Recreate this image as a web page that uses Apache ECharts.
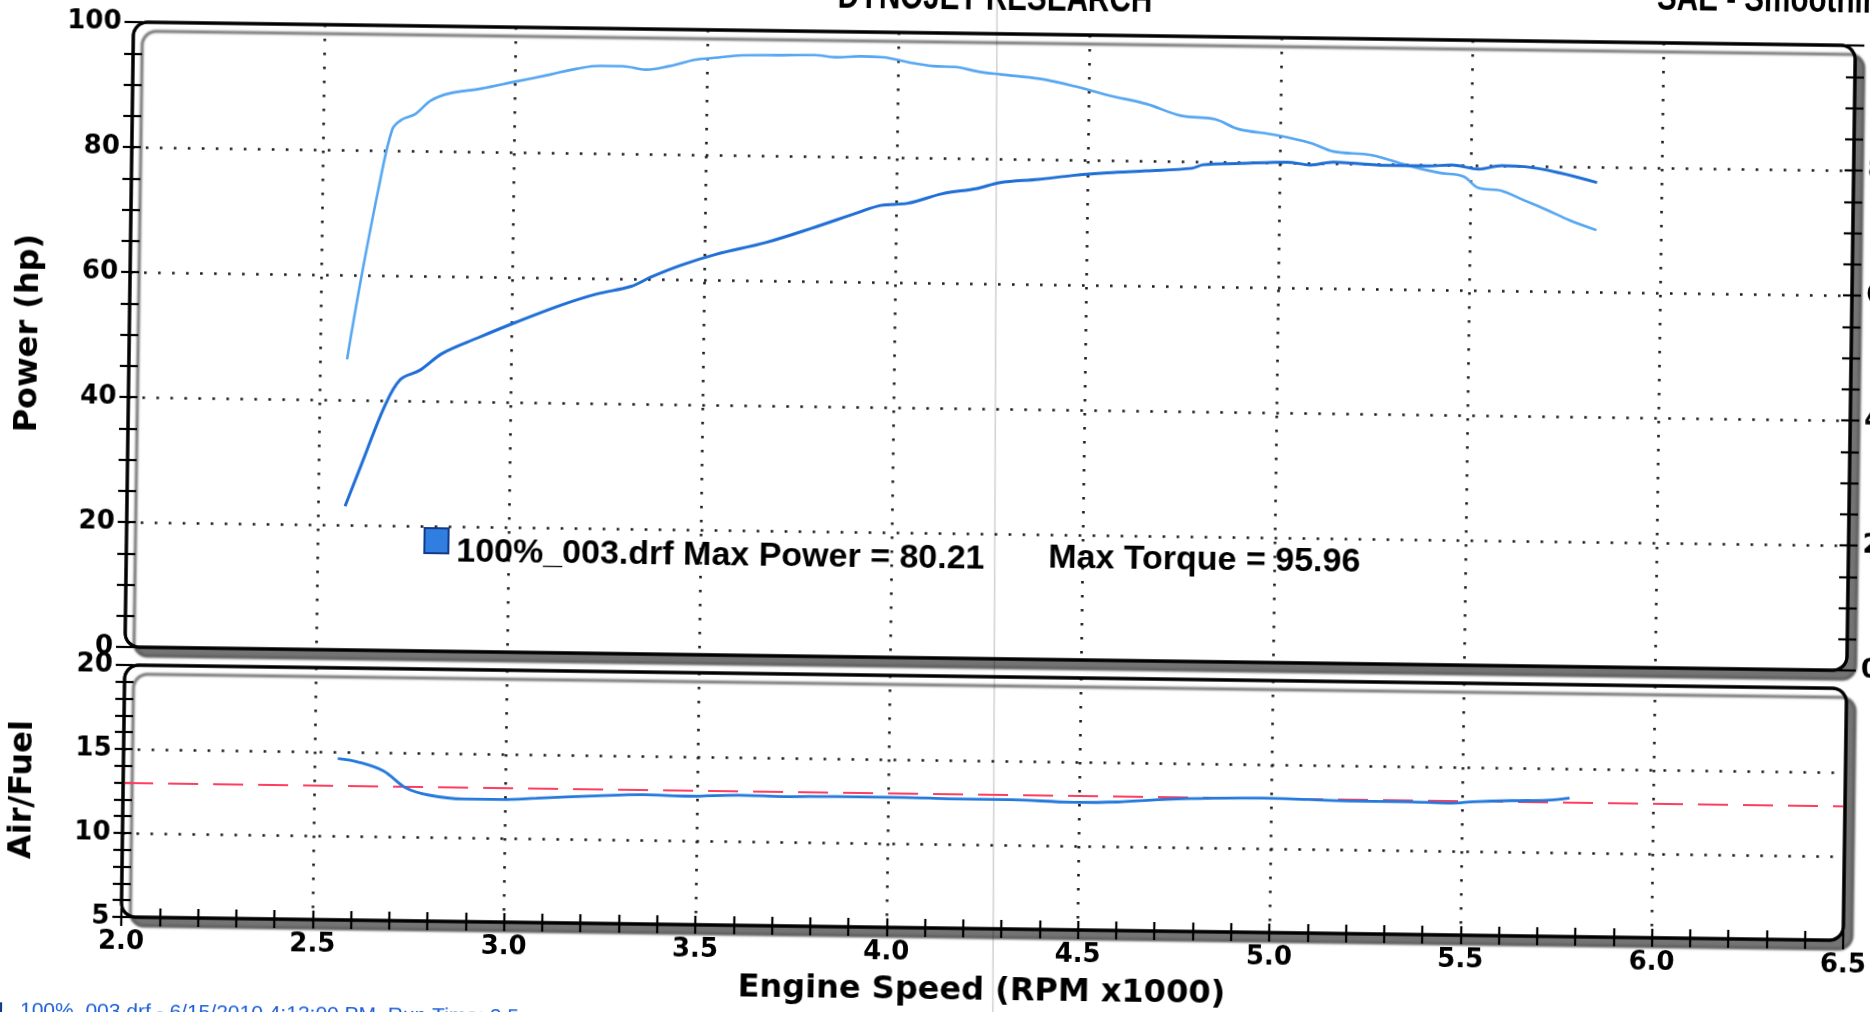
<!DOCTYPE html>
<html><head><meta charset="utf-8">
<script src="https://cdn.jsdelivr.net/npm/echarts/dist/echarts.min.js"></script>
<style>
html,body{margin:0;padding:0;width:1870px;height:1012px;overflow:hidden;background:#fff;}
#c{position:absolute;left:-50px;top:-50px;width:1970px;height:1112px;transform:rotate(0.78deg);}
</style></head><body><div id="c"></div>
<script>
// ---- data ----
const torqueRpm = [2.57,2.60,2.645,2.68,2.705,2.74,2.78,2.83,2.91,3.00,3.09,3.16,3.22,3.28,3.34,3.40,3.47,3.53,3.59,3.68,3.78,3.84,3.90,3.96,4.03,4.09,4.15,4.21,4.27,4.37,4.46,4.55,4.65,4.74,4.83,4.89,4.99,5.08,5.14,5.24,5.33,5.42,5.48,5.52,5.58,5.64,5.70,5.76,5.83];
const torqueVal = [46.5,58.1,73.5,83.4,85.0,85.9,88.1,89.3,90.1,91.3,92.5,93.5,94.0,94.0,93.5,94.1,95.2,95.6,96.0,96.1,96.2,95.9,96.1,96.0,95.2,94.7,94.6,93.9,93.5,92.9,91.8,90.4,89.1,87.3,86.8,85.3,84.4,83.2,81.9,81.4,79.9,78.7,78.2,76.4,76.0,74.5,73.0,71.4,69.9];
const powerRpm = [2.57,2.61,2.67,2.71,2.76,2.82,2.91,3.01,3.13,3.22,3.31,3.36,3.44,3.53,3.66,3.78,3.90,3.96,4.03,4.12,4.21,4.27,4.37,4.46,4.55,4.65,4.77,4.80,4.90,5.02,5.08,5.14,5.21,5.27,5.39,5.45,5.52,5.58,5.64,5.73,5.83];
const powerHp = [23.0,29.5,39.1,43.4,44.9,47.7,50.2,52.8,55.7,57.5,58.8,60.3,62.3,64.1,66.1,68.5,71.1,72.3,72.7,74.3,75.2,76.2,76.8,77.5,78.0,78.4,78.9,79.5,79.8,80.1,79.7,80.2,80.0,79.8,79.8,80.0,79.4,80.0,79.9,79.0,77.5];
const afrRpm = [2.56,2.615,2.68,2.74,2.80,2.89,2.99,3.08,3.24,3.36,3.48,3.61,3.73,3.86,4.04,4.17,4.32,4.48,4.60,4.73,4.85,4.98,5.10,5.22,5.35,5.47,5.53,5.63,5.72,5.78];
const afrVal = [14.6,14.4,13.9,12.9,12.5,12.3,12.3,12.4,12.6,12.7,12.65,12.75,12.7,12.75,12.75,12.7,12.7,12.6,12.65,12.85,12.95,13.0,12.95,12.9,12.9,12.85,12.95,13.05,13.1,13.25];
const targetAfr = 13.0;
const rpmTicks = {min: 2.0, max: 6.5, interval: 0.5};
const powerTicks = {min: 0, max: 100, interval: 20};
const afrTicks = {min: 5, max: 20, interval: 5};
const legendText = '100%_003.drf Max Power = 80.21';
const torqueText = 'Max Torque = 95.96';
const footerText = '100%_003.drf - 6/15/2010 4:13:00 PM  Run Time: 2.5 sec';

// ---- layout ----
const OFF = 50;
const G1 = {left: 127 + OFF, top: 33 + OFF, width: 1722, height: 625};
const G2 = {left: 127 + OFF, top: 676 + OFF, width: 1722, height: 252};
const FONT = 'DejaVu Sans';
const dotted = {color: '#1a1a1a', width: 2.6, type: [2.6, 11.4]};
const tickStyle = {color: '#000', width: 2.2};

const pair = (xs, ys) => xs.map((x, i) => [x, ys[i]]);

function tickAxis(extra) {
  return Object.assign({
    type: 'value', axisLine: {show: false},
    axisLabel: {show: false}, splitLine: {show: false}
  }, extra);
}

const chart = echarts.init(document.getElementById('c'), null, {renderer: 'canvas'});

function frame(g) {
  return [
    {type: 'rect', z: -100, silent: true,
     shape: {x: g.left, y: g.top, width: g.width, height: g.height, r: 14},
     style: {fill: '#fff', stroke: '#000', lineWidth: 3, shadowColor: 'rgba(70,70,70,0.75)', shadowBlur: 2, shadowOffsetX: 9, shadowOffsetY: 9}},
    {type: 'rect', z: 100, silent: true,
     shape: {x: g.left, y: g.top, width: g.width, height: g.height, r: 14},
     style: {fill: null, stroke: '#000', lineWidth: 3}}
  ];
}

const option = {
  backgroundColor: '#fff',
  animation: false,
  grid: [
    Object.assign({containLabel: false, outerBoundsMode: 'none'}, G1),
    Object.assign({containLabel: false, outerBoundsMode: 'none'}, G2)
  ],
  xAxis: [
    {type: 'value', gridIndex: 0, position: 'bottom', min: rpmTicks.min, max: rpmTicks.max, interval: rpmTicks.interval,
     axisLine: {show: false}, axisTick: {show: false}, axisLabel: {show: false},
     splitLine: {show: true, showMinLine: false, showMaxLine: false, lineStyle: dotted}},
    {type: 'value', gridIndex: 1, position: 'bottom', min: rpmTicks.min, max: rpmTicks.max, interval: rpmTicks.interval,
     axisLine: {show: false},
     axisTick: {show: true, length: 9, inside: false, lineStyle: tickStyle},
     minorTick: {show: true, splitNumber: 5, length: 9, lineStyle: tickStyle},
     axisLabel: {show: true, margin: 12, color: '#000', fontFamily: FONT, fontWeight: 'bold', fontSize: 26,
       formatter: v => v.toFixed(1)},
     splitLine: {show: true, showMinLine: false, showMaxLine: false, lineStyle: dotted},
     name: 'Engine Speed (RPM x1000)', nameLocation: 'middle', nameGap: 47,
     nameTextStyle: {color: '#000', fontFamily: FONT, fontWeight: 'bold', fontSize: 32}},
    tickAxis({gridIndex: 1, position: 'bottom', min: rpmTicks.min, max: rpmTicks.max, interval: rpmTicks.interval,
     axisTick: {show: true, length: 9, inside: true, lineStyle: tickStyle},
     minorTick: {show: true, splitNumber: 5, length: 9, lineStyle: tickStyle}})
  ],
  yAxis: [
    {type: 'value', gridIndex: 0, position: 'left', min: powerTicks.min, max: powerTicks.max, interval: powerTicks.interval,
     axisLine: {show: false},
     axisTick: {show: true, length: 9, inside: false, lineStyle: tickStyle},
     minorTick: {show: true, splitNumber: 4, length: 9, lineStyle: tickStyle},
     axisLabel: {show: true, margin: 12, color: '#000', fontFamily: FONT, fontWeight: 'bold', fontSize: 26},
     splitLine: {show: true, showMinLine: false, showMaxLine: false, lineStyle: dotted},
     name: 'Power (hp)', nameLocation: 'middle', nameGap: 84, nameRotate: 90,
     nameTextStyle: {color: '#000', fontFamily: FONT, fontWeight: 'bold', fontSize: 32}},
    tickAxis({gridIndex: 0, position: 'left', min: powerTicks.min, max: powerTicks.max, interval: powerTicks.interval,
     axisTick: {show: true, length: 9, inside: true, lineStyle: tickStyle},
     minorTick: {show: true, splitNumber: 4, length: 9, lineStyle: tickStyle}}),
    {type: 'value', gridIndex: 0, position: 'right', min: powerTicks.min, max: powerTicks.max, interval: powerTicks.interval,
     axisLine: {show: false},
     axisTick: {show: true, length: 9, inside: false, lineStyle: tickStyle},
     minorTick: {show: true, splitNumber: 4, length: 9, lineStyle: tickStyle},
     axisLabel: {show: true, margin: 14, color: '#000', fontFamily: FONT, fontWeight: 'bold', fontSize: 26},
     splitLine: {show: false}},
    tickAxis({gridIndex: 0, position: 'right', min: powerTicks.min, max: powerTicks.max, interval: powerTicks.interval,
     axisTick: {show: true, length: 9, inside: true, lineStyle: tickStyle},
     minorTick: {show: true, splitNumber: 4, length: 9, lineStyle: tickStyle}}),
    {type: 'value', gridIndex: 1, position: 'left', min: afrTicks.min, max: afrTicks.max, interval: afrTicks.interval,
     axisLine: {show: false},
     axisTick: {show: true, length: 9, inside: false, lineStyle: tickStyle},
     minorTick: {show: true, splitNumber: 5, length: 9, lineStyle: tickStyle},
     axisLabel: {show: true, margin: 12, color: '#000', fontFamily: FONT, fontWeight: 'bold', fontSize: 26},
     splitLine: {show: true, showMinLine: false, showMaxLine: false, lineStyle: dotted},
     name: 'Air/Fuel', nameLocation: 'middle', nameGap: 84, nameRotate: 90,
     nameTextStyle: {color: '#000', fontFamily: FONT, fontWeight: 'bold', fontSize: 32}},
    tickAxis({gridIndex: 1, position: 'left', min: afrTicks.min, max: afrTicks.max, interval: afrTicks.interval,
     axisTick: {show: true, length: 9, inside: true, lineStyle: tickStyle},
     minorTick: {show: true, splitNumber: 5, length: 9, lineStyle: tickStyle}})
  ],
  series: [
    {name: 'Torque', type: 'line', xAxisIndex: 0, yAxisIndex: 0, data: pair(torqueRpm, torqueVal),
     smooth: 0.35, showSymbol: false, z: 5, lineStyle: {color: '#56a6f2', width: 2.6}},
    {name: 'Power', type: 'line', xAxisIndex: 0, yAxisIndex: 0, data: pair(powerRpm, powerHp),
     smooth: 0.35, showSymbol: false, z: 6, lineStyle: {color: '#1f6fd6', width: 3}},
    {name: 'Air/Fuel', type: 'line', xAxisIndex: 1, yAxisIndex: 4, data: pair(afrRpm, afrVal),
     smooth: 0.35, showSymbol: false, z: 6, lineStyle: {color: '#2479dc', width: 2.8},
     markLine: {silent: true, symbol: 'none', label: {show: false}, animation: false,
       lineStyle: {color: '#ff3d5e', width: 2.2, type: [30, 15]},
       data: [{yAxis: targetAfr}]}}
  ],
  graphic: [
    ...frame(G1), ...frame(G2),
    {type: 'line', silent: true, z: 1, shape: {x1: 1040, y1: 30, x2: 1050, y2: 1090},
     style: {stroke: 'rgba(0,0,0,0.18)', lineWidth: 1.5}},
    {type: 'text', silent: true, z: 50, x: 988 + OFF, y: 18 + OFF, scaleX: 0.78,
     style: {text: 'DYNOJET RESEARCH', fill: '#000', font: 'bold 38px "Liberation Sans"', textAlign: 'center', textVerticalAlign: 'bottom'}},
    {type: 'text', silent: true, z: 50, x: 1650 + OFF, y: 9 + OFF, scaleX: 0.78,
     style: {text: 'SAE - Smoothing 5', fill: '#000', font: 'bold 38px "Liberation Sans"', textAlign: 'left', textVerticalAlign: 'bottom'}},
    {type: 'rect', silent: true, z: 50, shape: {x: 425 + OFF, y: 535 + OFF, width: 24, height: 25},
     style: {fill: '#2f7ee0', stroke: '#123a8a', lineWidth: 2}},
    {type: 'text', silent: true, z: 50, x: 457 + OFF, y: 559 + OFF,
     style: {text: legendText, fill: '#000', font: 'bold 34px "Liberation Sans"', textAlign: 'left', textVerticalAlign: 'middle'}},
    {type: 'text', silent: true, z: 50, x: 1049 + OFF, y: 557 + OFF,
     style: {text: torqueText, fill: '#000', font: 'bold 34px "Liberation Sans"', textAlign: 'left', textVerticalAlign: 'middle'}},
    {type: 'rect', silent: true, z: 50, shape: {x: -6 + OFF, y: 1016 + OFF, width: 14, height: 16},
     style: {fill: '#2f7ee0', stroke: '#123a8a', lineWidth: 2}},
    {type: 'text', silent: true, z: 50, x: 27 + OFF, y: 1013 + OFF,
     style: {text: footerText, fill: '#1c5fd6', font: '21px "Liberation Sans"', textAlign: 'left', textVerticalAlign: 'top'}}
  ]
};
chart.setOption(option);
</script>
</body></html>
